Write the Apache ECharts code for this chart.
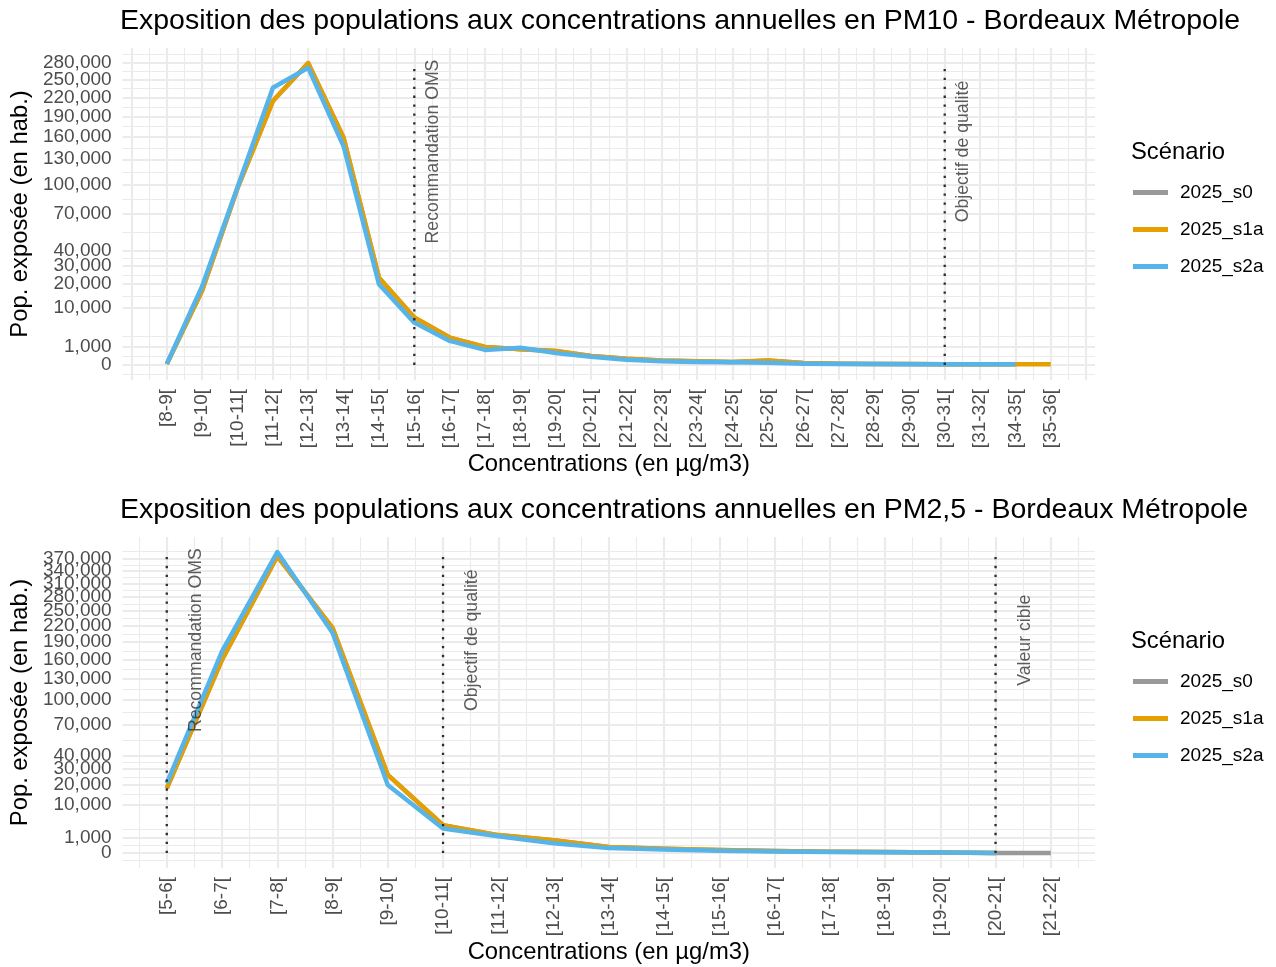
<!DOCTYPE html>
<html><head><meta charset="utf-8">
<script src="https://cdn.jsdelivr.net/npm/echarts@6/dist/echarts.min.js"></script>
<style>html,body{margin:0;padding:0;background:#fff}#c{width:1276px;height:967px}</style>
</head><body><div id="c"></div>
<script>
// ---------- DATA ----------
const seriesNames = ['2025_s0', '2025_s1a', '2025_s2a'];
const seriesColors = ['#999999', '#E69F00', '#56B4E9'];

const pm10Title = 'Exposition des populations aux concentrations annuelles en PM10 - Bordeaux Métropole';
const pm10Categories = ['[8-9[','[9-10[','[10-11[','[11-12[','[12-13[','[13-14[','[14-15[','[15-16[','[16-17[','[17-18[','[18-19[','[19-20[','[20-21[','[21-22[','[22-23[','[23-24[','[24-25[','[25-26[','[26-27[','[27-28[','[28-29[','[29-30[','[30-31[','[31-32[','[34-35[','[35-36['];
const pm10_s0  = [2, 17000, 96000, 214000, 280000, 158500, 23400, 6900, 2300, 1000, 750, 600, 250, 120, 60, 40, 25, 60, 10, 5, 3, 2, 1, 1, 1];
const pm10_s1a = [2, 17000, 96000, 214000, 280000, 158500, 23400, 6900, 2300, 1000, 750, 600, 250, 120, 60, 40, 25, 60, 10, 5, 3, 2, 1, 1, 1, 1];
const pm10_s2a = [3, 19000, 97000, 236000, 271400, 147000, 20000, 5500, 1770, 690, 900, 440, 200, 80, 40, 25, 20, 15, 5, 3, 2, 1, 1, 1, 1];
const pm10Breaks = [0, 1000, 10000, 20000, 30000, 40000, 70000, 100000, 130000, 160000, 190000, 220000, 250000, 280000];
const pm10RefCats = ['[15-16[', '[30-31['];
const pm10RefLabels = ['Recommandation OMS', 'Objectif de qualité'];

const pm25Title = 'Exposition des populations aux concentrations annuelles en PM2,5 - Bordeaux Métropole';
const pm25Categories = ['[5-6[','[6-7[','[7-8[','[8-9[','[9-10[','[10-11[','[11-12[','[12-13[','[13-14[','[14-15[','[15-16[','[16-17[','[17-18[','[18-19[','[19-20[','[20-21[','[21-22['];
const pm25_s0  = [17800, 159600, 376600, 216500, 26000, 3300, 1360, 690, 150, 80, 40, 15, 6, 3, 1, 0, 0];
const pm25_s1a = [17800, 159600, 376600, 216500, 26000, 3300, 1360, 690, 150, 80, 40, 15, 6, 3, 1, 0];
const pm25_s2a = [20700, 173700, 386900, 207000, 19700, 2560, 1200, 400, 100, 50, 20, 8, 4, 2, 1, 0];
const pm25Breaks = [0, 1000, 10000, 20000, 30000, 40000, 70000, 100000, 130000, 160000, 190000, 220000, 250000, 280000, 310000, 340000, 370000];
const pm25RefCats = ['[5-6[', '[10-11[', '[20-21['];
const pm25RefLabels = ['Recommandation OMS', 'Objectif de qualité', 'Valeur cible'];

const legendTitle = 'Scénario';
const xTitle = 'Concentrations (en µg/m3)';
const yTitle = 'Pop. exposée (en hab.)';

// ---------- BUILD ----------
const FONT = '"Liberation Sans", Arial, Helvetica, sans-serif';
const GRID = '#EBEBEB';
const option = {
  animation: false,
  backgroundColor: '#ffffff',
  textStyle: { fontFamily: FONT },
  title: [], legend: [], grid: [], xAxis: [], yAxis: [], series: []
};

function addPanel(p, cfg) {
  const n = cfg.categories.length;
  const xmin = -0.05 * (n - 1), xmax = (n - 1) * 1.05;
  const allVals = cfg.values.flat();
  const M = Math.sqrt(Math.max(...allVals));
  const ymin = -0.05 * M, ymax = 1.05 * M;
  const sb = cfg.breaks.map(Math.sqrt);
  // minor grid positions (transformed space): midpoints between major breaks
  // (the 1,000 break is not used as a minor-grid anchor above it, as in the source chart)
  const anchors = [sb[0] - (sb[1] - sb[0]), sb[0], sb[1]];
  const yMinor = [(anchors[0] + anchors[1]) / 2, (anchors[1] + anchors[2]) / 2, (sb[0] + sb[2]) / 2];
  for (let i = 2; i < sb.length - 1; i++) yMinor.push((sb[i] + sb[i + 1]) / 2);
  const last = sb[sb.length - 1], step = sb[1] - sb[0];
  if (last + step / 2 < ymax) yMinor.push(last + step / 2);

  const xMajor = [], xMinor = [];
  for (let v = Math.ceil(xmin); v <= xmax; v++) xMajor.push(v);
  for (let v = Math.ceil(xmin - 0.5) + 0.5; v <= xmax; v++) if (v > xmin) xMinor.push(v);
  const idx = cfg.categories.map((c, i) => i);
  const labA = sb.filter((v, i) => i % 2 === 0);
  const labB = sb.filter((v, i) => i % 2 === 1);
  const fmtY = v => Math.round(v * v).toLocaleString('en-US');

  option.grid.push({ left: 118, width: 977, top: cfg.top, height: cfg.height, containLabel: false });
  option.title.push({ text: cfg.title, left: 120, top: cfg.titleTop, padding: 0,
    textStyle: { fontSize: 28.5, fontWeight: 'normal', color: '#000', fontFamily: FONT } });
  option.title.push({ text: legendTitle, left: 1131, top: cfg.legendTitleTop, padding: 0,
    textStyle: { fontSize: 23.8, fontWeight: 'normal', color: '#000', fontFamily: FONT } });

  const xBase = p * 2, yBase = p * 3;
  option.xAxis.push({
    type: 'value', gridIndex: p, min: xmin, max: xmax, position: 'bottom',
    axisLine: { show: false }, axisTick: { show: false, customValues: xMajor },
    splitLine: { show: true, lineStyle: { color: GRID, width: 2.2 } },
    axisLabel: { customValues: idx, formatter: v => cfg.categories[Math.round(v)], rotate: 90,
      showMinLabel: true, showMaxLabel: true,
      margin: 9, fontSize: 19, color: '#4D4D4D', fontFamily: FONT },
    name: xTitle, nameLocation: 'middle', nameGap: 72,
    nameTextStyle: { fontSize: 23.8, color: '#000', fontFamily: FONT }
  });
  option.xAxis.push({
    type: 'value', gridIndex: p, min: xmin, max: xmax, position: 'bottom',
    axisLine: { show: false }, axisTick: { show: false, customValues: xMinor },
    axisLabel: { show: false },
    splitLine: { show: true, lineStyle: { color: GRID, width: 1.1 } }
  });
  option.yAxis.push({
    type: 'value', gridIndex: p, min: ymin, max: ymax, position: 'left', offset: 0,
    axisLine: { show: false }, axisTick: { show: false, customValues: sb },
    splitLine: { show: true, lineStyle: { color: GRID, width: 2.2 } },
    axisLabel: { customValues: labA, formatter: fmtY,
      showMinLabel: true, showMaxLabel: true,
      margin: 11, fontSize: 19, color: '#4D4D4D', fontFamily: FONT },
    name: yTitle, nameLocation: 'middle', nameRotate: 90, nameGap: 86,
    nameTextStyle: { fontSize: 23.8, color: '#000', fontFamily: FONT }
  });
  option.yAxis.push({
    type: 'value', gridIndex: p, min: ymin, max: ymax, position: 'right',
    axisLine: { show: false }, axisTick: { show: false, customValues: yMinor },
    axisLabel: { show: false },
    splitLine: { show: true, lineStyle: { color: GRID, width: 1.1 } }
  });
  option.yAxis.push({
    type: 'value', gridIndex: p, min: ymin, max: ymax, position: 'left', offset: 0,
    axisLine: { show: false }, axisTick: { show: false, customValues: labB },
    splitLine: { show: false },
    axisLabel: { customValues: labB, formatter: fmtY,
      showMinLabel: true, showMaxLabel: true,
      margin: 11, fontSize: 19, color: '#4D4D4D', fontFamily: FONT }
  });

  const xi = xBase, yi = yBase;
  cfg.values.forEach((vals, s) => {
    option.series.push({
      type: 'line', name: seriesNames[s], xAxisIndex: xi, yAxisIndex: yi,
      data: vals.map((v, i) => [i, Math.sqrt(v)]),
      symbol: 'none', showSymbol: false, smooth: false, z: 3 + s,
      lineStyle: { width: 4.5, color: seriesColors[s], cap: 'butt', join: 'round' },
      itemStyle: { color: seriesColors[s] }
    });
  });
  cfg.refCats.forEach((c, k) => {
    const ci = cfg.categories.indexOf(c);
    option.series.push({
      type: 'line', name: 'ref' + p + k, xAxisIndex: xi, yAxisIndex: yi,
      data: [[ci, 0], [ci, M]], symbol: 'none', silent: true, z: 10,
      lineStyle: { type: [2.3, 6.6], width: 2.3, color: '#2b2b2b', cap: 'butt' }
    });
    option.series.push({
      type: 'scatter', name: 'lab' + p + k, xAxisIndex: xi, yAxisIndex: yi,
      data: [[ci + 0.53, Math.sqrt(M * M / 2)]], symbolSize: 0, silent: true, z: 11,
      label: { show: true, formatter: cfg.refLabels[k], rotate: 90, position: 'inside',
        align: 'center', verticalAlign: 'middle', fontSize: 17.7, color: '#333', fontFamily: FONT }
    });
  });
  option.legend.push({
    data: seriesNames.slice(), orient: 'vertical', left: 1133, top: cfg.legendTop, padding: 0,
    icon: 'rect', itemWidth: 35, itemHeight: 5, itemGap: 18, selectedMode: false,
    textStyle: { fontSize: 19, color: '#000', fontFamily: FONT, padding: [0, 0, 0, 7] }
  });
}

addPanel(0, { title: pm10Title, titleTop: 7, top: 48, height: 332, categories: pm10Categories,
  values: [pm10_s0, pm10_s1a, pm10_s2a], breaks: pm10Breaks, refCats: pm10RefCats, refLabels: pm10RefLabels,
  legendTitleTop: 140, legendTop: 183 });
addPanel(1, { title: pm25Title, titleTop: 496, top: 537, height: 331, categories: pm25Categories,
  values: [pm25_s0, pm25_s1a, pm25_s2a], breaks: pm25Breaks, refCats: pm25RefCats, refLabels: pm25RefLabels,
  legendTitleTop: 629, legendTop: 672 });

const chart = echarts.init(document.getElementById('c'), null, { renderer: 'canvas' });
chart.setOption(option);
</script>
</body></html>
